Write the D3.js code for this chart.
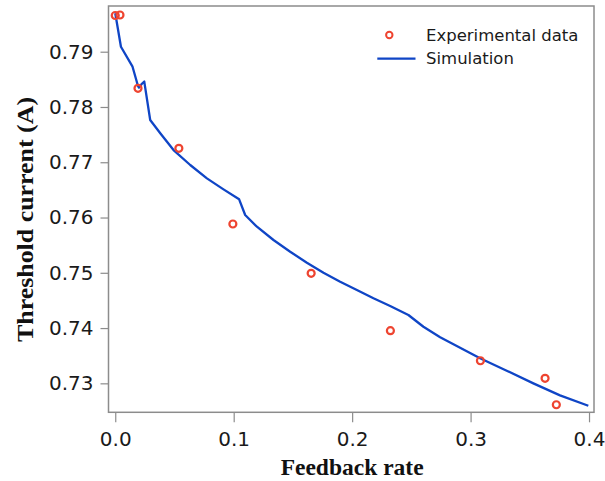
<!DOCTYPE html>
<html><head><meta charset="utf-8">
<script src="https://cdn.jsdelivr.net/npm/d3@7"></script>
<style>
html,body{margin:0;padding:0;background:#fff;}
svg{display:block;}
</style></head>
<body>
<svg id="chart" width="605" height="481"></svg>
<script>
// Experimental data
const expX = [0.000, 0.004, 0.0192, 0.0537, 0.0993, 0.1654, 0.2323, 0.3083, 0.3629, 0.3724];
const expY = [0.79655, 0.79664, 0.78338, 0.77252, 0.75883, 0.74991, 0.73952, 0.73409, 0.73091, 0.72613];
// Simulation curve
const simX = [0.000, 0.0048, 0.0146, 0.0192, 0.0200, 0.0225, 0.0245, 0.0295, 0.038, 0.0492, 0.0633, 0.0774, 0.0914, 0.1046, 0.1097, 0.1196, 0.1336, 0.1477, 0.1618, 0.1758, 0.1899, 0.2040, 0.2180, 0.2321, 0.2475, 0.2602, 0.2743, 0.308, 0.3305, 0.353, 0.3755, 0.3994];
const simY = [0.79695, 0.7909, 0.78729, 0.78379, 0.78350, 0.78420, 0.78460, 0.77764, 0.77524, 0.77221, 0.76950, 0.76709, 0.76510, 0.76329, 0.76045, 0.75834, 0.75593, 0.75381, 0.75182, 0.75001, 0.74839, 0.74688, 0.74538, 0.74399, 0.74236, 0.74024, 0.73833, 0.73453, 0.73228, 0.73000, 0.72782, 0.72595];
const xTicks = [0.0, 0.1, 0.2, 0.3, 0.4];
const yTicks = [0.73, 0.74, 0.75, 0.76, 0.77, 0.78, 0.79];
const xDomain = [-0.0057, 0.4042];
const yDomain = [0.72476, 0.79827];
const legendLabels = ["Experimental data", "Simulation"];
const xTitle = "Feedback rate";
const yTitle = "Threshold current (A)";

const svg = d3.select("#chart");
const L = 108.5, R = 594, T = 6, B = 412.3;
const x = d3.scaleLinear().domain(xDomain).range([L, R]);
const y = d3.scaleLinear().domain(yDomain).range([B, T]);
const frameColor = "#8c8c8c";
const red = "#ee4430", blue = "#0f45c6";

// Axes
const xAxis = d3.axisBottom(x).tickValues(xTicks).tickFormat(d3.format(".1f")).tickSize(10).tickSizeOuter(0).tickPadding(6);
const gx = svg.append("g").attr("transform", `translate(0,${B})`).call(xAxis);
const yAxis = d3.axisLeft(y).tickValues(yTicks).tickFormat(d3.format(".2f")).tickSize(8).tickSizeOuter(0).tickPadding(7);
const gy = svg.append("g").attr("transform", `translate(${L},0)`).call(yAxis);
[gx, gy].forEach(g => {
  g.select(".domain").remove();
  g.selectAll(".tick line").attr("stroke", frameColor).attr("stroke-width", 1.2);
  g.selectAll(".tick text").attr("fill", "#1a1a1a").style("font-family", "'DejaVu Sans', sans-serif").style("font-size", "20px");
});
gx.selectAll(".tick text").attr("dy", "0.9em");
gy.selectAll(".tick text").attr("dy", "0.32em");

// Frame
svg.append("rect").attr("x", L).attr("y", T).attr("width", R - L).attr("height", B - T)
  .attr("fill", "none").attr("stroke", frameColor).attr("stroke-width", 1.5);

// Simulation line
const simData = simX.map((v, i) => [v, simY[i]]);
svg.append("path").datum(simData)
  .attr("d", d3.line().x(d => x(d[0])).y(d => y(d[1])))
  .attr("fill", "none").attr("stroke", blue).attr("stroke-width", 2.3).attr("stroke-linejoin", "round");

// Experimental points
const expData = expX.map((v, i) => [v, expY[i]]);
svg.append("g").selectAll("circle").data(expData).join("circle")
  .attr("cx", d => x(d[0])).attr("cy", d => y(d[1])).attr("r", 3.5)
  .attr("fill", "none").attr("stroke", red).attr("stroke-width", 2.2);

// Axis titles
const serif = "'Liberation Serif', 'Times New Roman', serif";
svg.append("text").attr("x", x(0.2)).attr("y", 475).attr("text-anchor", "middle")
  .style("font-family", serif).style("font-weight", "bold").style("font-size", "23.5px")
  .attr("fill", "#111").attr("textLength", 143).attr("lengthAdjust", "spacingAndGlyphs").text(xTitle);
svg.append("text").attr("transform", `translate(33,${(97 + 342) / 2}) rotate(-90)`).attr("text-anchor", "middle")
  .style("font-family", serif).style("font-weight", "bold").style("font-size", "24px")
  .attr("fill", "#111").attr("textLength", 245).attr("lengthAdjust", "spacingAndGlyphs").text(yTitle);

// Legend
const lg = svg.append("g");
lg.append("circle").attr("cx", 389.3).attr("cy", 35).attr("r", 3.2).attr("fill", "none").attr("stroke", red).attr("stroke-width", 2);
lg.append("line").attr("x1", 377.3).attr("x2", 415.5).attr("y1", 58.6).attr("y2", 58.6).attr("stroke", blue).attr("stroke-width", 2.3);
lg.selectAll("text").data(legendLabels).join("text")
  .attr("x", 426).attr("y", (d, i) => i === 0 ? 40.8 : 63.6)
  .style("font-family", "'DejaVu Sans', sans-serif").style("font-size", "16.5px").attr("fill", "#1a1a1a").text(d => d);
</script>
</body></html>
